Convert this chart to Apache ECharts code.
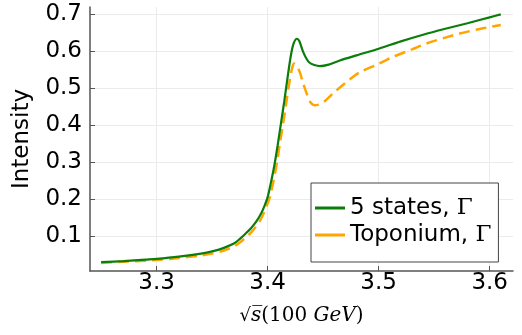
<!DOCTYPE html>
<html>
<head>
<meta charset="utf-8">
<script src="https://cdn.jsdelivr.net/npm/echarts@6/dist/echarts.min.js"></script>
<style>
html, body { margin: 0; padding: 0; background: #fff; }
#chart { width: 522px; height: 335px; }
</style>
</head>
<body>
<div id="chart"></div>
<script>
// 5 states
var statesX = [3.25, 3.27, 3.29, 3.30, 3.32, 3.34, 3.35, 3.36, 3.37, 3.375, 3.38, 3.385, 3.39, 3.394, 3.397, 3.400,
    3.403, 3.406, 3.409, 3.412, 3.415, 3.418, 3.421, 3.4235, 3.4264, 3.4285, 3.4318, 3.435, 3.4378,
    3.442, 3.447, 3.455, 3.465, 3.48, 3.50, 3.52, 3.54, 3.56, 3.58, 3.60, 3.61];
var statesY = [0.029, 0.032, 0.036, 0.038, 0.044, 0.052, 0.058, 0.067, 0.080, 0.092, 0.106, 0.121, 0.140, 0.160, 0.180, 0.205,
    0.245, 0.29, 0.345, 0.405, 0.465, 0.53, 0.59, 0.622, 0.634, 0.628, 0.600, 0.580, 0.569,
    0.563, 0.560, 0.564, 0.575, 0.589, 0.607, 0.627, 0.645, 0.661, 0.676, 0.692, 0.700];

// Toponium
var topX = [3.25, 3.27, 3.29, 3.30, 3.32, 3.34, 3.35, 3.36, 3.37, 3.375, 3.38, 3.385, 3.39, 3.394, 3.397, 3.400,
    3.402, 3.405, 3.4085, 3.411, 3.414, 3.4165, 3.419, 3.421, 3.4225, 3.4238, 3.4255, 3.4288, 3.4318,
    3.4349, 3.4378, 3.4423, 3.4465, 3.4514, 3.4589, 3.4694, 3.4829, 3.50, 3.5129, 3.53, 3.543, 3.56, 3.573, 3.59, 3.61];
var topY = [0.027, 0.030, 0.033, 0.035, 0.040, 0.047, 0.052, 0.060, 0.072, 0.082, 0.095, 0.109, 0.127, 0.146, 0.165, 0.188,
    0.205, 0.245, 0.30, 0.35, 0.405, 0.455, 0.505, 0.540, 0.559, 0.567, 0.562, 0.545, 0.515,
    0.488, 0.465, 0.454, 0.456, 0.465, 0.486, 0.513, 0.543, 0.566, 0.585, 0.605, 0.621, 0.637, 0.648, 0.660, 0.671];

var xTicks = [3.3, 3.4, 3.5, 3.6];
var yTicks = [0.1, 0.2, 0.3, 0.4, 0.5, 0.6, 0.7];

function pairs(xs, ys) {
    var out = [];
    for (var i = 0; i < xs.length; i++) {
        out.push([xs[i], ys[i]]);
    }
    return out;
}

var sans = 'DejaVu Sans';
var serif = 'DejaVu Serif';

var myChart = echarts.init(document.getElementById('chart'));

var option = {
    animation: false,
    backgroundColor: '#fff',
    grid: {
        left: 90,
        right: 9,
        top: 7,
        bottom: 64,
        containLabel: false,
        outerBoundsMode: 'none'
    },
    legend: {
        orient: 'vertical',
        left: 311,
        top: 183,
        padding: [13, 7, 15, 4],
        itemGap: 3,
        itemWidth: 30,
        itemHeight: 3,
        icon: 'rect',
        borderColor: '#444',
        borderWidth: 1,
        borderRadius: 0,
        backgroundColor: '#fff',
        formatter: function(name) {
            var parts = name.split('Γ');
            return '{t|' + parts[0] + '}{g|Γ}';
        },
        textStyle: {
            color: '#000',
            lineHeight: 24,
            rich: {
                t: { fontFamily: sans, fontSize: 23, color: '#000', lineHeight: 24 },
                g: { fontFamily: serif, fontSize: 23, color: '#000', lineHeight: 24 }
            }
        },
        data: ['5 states, Γ', 'Toponium, Γ']
    },
    xAxis: {
        type: 'value',
        min: 3.24,
        max: 3.621,
        name: '{r|√}{s|s̅}{n|(100 }{i|GeV}{n|)}',
        nameLocation: 'middle',
        nameGap: 35,
        nameTextStyle: {
            rich: {
                r: { fontFamily: serif, fontSize: 18, color: '#000' },
                s: { fontFamily: serif, fontStyle: 'italic', fontSize: 20, color: '#000' },
                n: { fontFamily: serif, fontSize: 20, color: '#000' },
                i: { fontFamily: serif, fontStyle: 'italic', fontSize: 20, color: '#000' }
            }
        },
        axisLine: { show: true, onZero: false, lineStyle: { color: '#555', width: 1.5 } },
        axisTick: { show: true, inside: true, length: 5, customValues: xTicks, lineStyle: { color: '#555' } },
        axisLabel: {
            customValues: xTicks,
            margin: 1,
            color: '#000',
            fontFamily: sans,
            fontSize: 23,
            formatter: function(v) { return v.toFixed(1); }
        },
        splitLine: { show: true, lineStyle: { color: '#ebebeb', width: 1 } }
    },
    yAxis: {
        type: 'value',
        min: 0.005,
        max: 0.72,
        name: 'Intensity',
        nameLocation: 'middle',
        nameGap: 56,
        nameTextStyle: { fontFamily: sans, fontSize: 23, color: '#000' },
        axisLine: { show: true, onZero: false, lineStyle: { color: '#555', width: 1.5 } },
        axisTick: { show: true, inside: true, length: 5, customValues: yTicks, lineStyle: { color: '#555' } },
        axisLabel: {
            customValues: yTicks,
            margin: 8,
            color: '#000',
            fontFamily: sans,
            fontSize: 23,
            formatter: function(v) { return v.toFixed(1); }
        },
        splitLine: { show: true, lineStyle: { color: '#ebebeb', width: 1 } }
    },
    series: [{
        name: '5 states, Γ',
        type: 'line',
        data: pairs(statesX, statesY),
        showSymbol: false,
        symbol: 'none',
        smooth: 0.3,
        color: '#0a7d0a',
        lineStyle: { color: '#0a7d0a', width: 2.2 },
        z: 3
    }, {
        name: 'Toponium, Γ',
        type: 'line',
        data: pairs(topX, topY),
        showSymbol: false,
        symbol: 'none',
        smooth: 0.3,
        color: '#ffa500',
        lineStyle: { color: '#ffa500', width: 2.5, type: [11, 6] },
        z: 2
    }]
};

myChart.setOption(option);
</script>
</body>
</html>
